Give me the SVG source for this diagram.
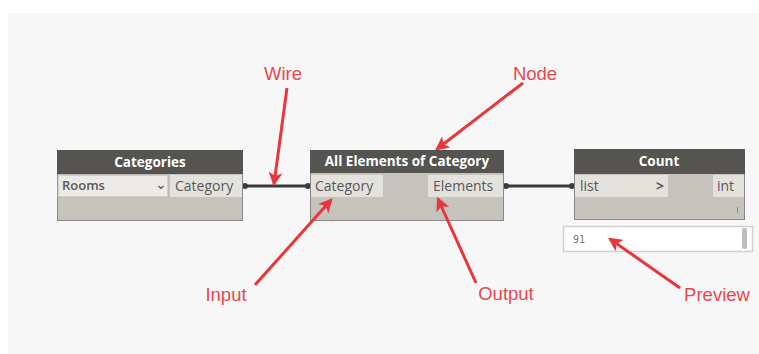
<svg xmlns="http://www.w3.org/2000/svg" width="759" height="354" viewBox="0 0 759 354">
<defs>
<marker id="rh" viewBox="0 0 12 12" refX="10" refY="6" markerWidth="14" markerHeight="14" markerUnits="userSpaceOnUse" orient="auto"><path d="M0,0 L12,6 L0,12 L3,6 z" fill="#e8373c"/></marker>
</defs>
<style>
.body{fill:#c6c3bd;stroke:#8a8884;stroke-width:1}
.head{fill:#565451}
.port{fill:#e4e2dd}
.title{font-family:"Open Sans","Noto Sans",sans-serif;font-size:13.5px;font-weight:bold;fill:#ffffff;text-anchor:middle}
.ptxt{font-family:"Open Sans","Noto Sans",sans-serif;font-size:14px;fill:#5a5855}
.lbl{font-family:"Liberation Sans",Arial,sans-serif;font-size:18.5px;fill:#e8474f;text-anchor:middle}
.arrow{stroke:#e8373c;stroke-width:3;fill:none;marker-end:url(#rh)}
.wire{stroke:#3a3a3a;stroke-width:3}
.dot{fill:#3a3a3a}
</style>
<rect x="0" y="0" width="759" height="354" fill="#ffffff"/>
<rect x="8" y="13" width="751" height="341" fill="#f7f7f7"/>

<g id="connectors">
<line class="wire" x1="243" y1="186" x2="310" y2="186"/>
<circle class="dot" cx="245" cy="186" r="3"/>
<circle class="dot" cx="308" cy="186" r="3"/>
<line class="wire" x1="504" y1="186" x2="574" y2="186"/>
<circle class="dot" cx="506" cy="186" r="3"/>
<circle class="dot" cx="572" cy="186" r="3"/>
</g>

<g id="node-categories">
<rect class="body" x="57.5" y="150.5" width="185" height="70"/>
<rect class="head" x="57" y="150" width="186" height="24"/>
<text class="title" x="150" y="167">Categories</text>
<rect x="58" y="175" width="110" height="22" fill="#eceae6" stroke="#b8b6b2" stroke-width="1"/>
<text class="ptxt" x="62" y="190" fill="#4a4846" style="font-weight:600;font-size:13px">Rooms</text>
<text class="ptxt" x="155" y="189" font-size="9">⌄</text>
<rect class="port" x="170" y="175" width="72" height="22"/>
<text class="ptxt" x="175" y="191">Category</text>
</g>

<g id="node-all-elements">
<rect class="body" x="310.5" y="150.5" width="193" height="70"/>
<rect class="head" x="310" y="150" width="194" height="23"/>
<text class="title" x="407" y="166">All Elements of Category</text>
<rect class="port" x="311" y="175" width="72" height="22"/>
<text class="ptxt" x="315" y="191">Category</text>
<rect class="port" x="428" y="175" width="75" height="22"/>
<text class="ptxt" x="433" y="191">Elements</text>
</g>

<g id="node-count">
<rect class="body" x="574.5" y="149.5" width="170" height="70"/>
<rect class="head" x="574" y="149" width="171" height="25"/>
<text class="title" x="659" y="166">Count</text>
<rect class="port" x="575" y="175" width="93" height="22"/>
<text class="ptxt" x="580" y="191">list</text>
<text class="ptxt" x="656" y="191" font-weight="bold" fill="#3e3c3a">&gt;</text>
<rect class="port" x="713" y="175" width="31" height="22"/>
<text class="ptxt" x="717" y="191">int</text>
<line x1="737.5" y1="207" x2="737.5" y2="213" stroke="#8a8884" stroke-width="1"/>
</g>

<g id="preview">
<rect x="563.5" y="226.5" width="189" height="25" fill="#ffffff" stroke="#cfcfcf" stroke-width="1.5"/>
<text x="573" y="243" font-family="'DejaVu Sans Mono','Liberation Mono',monospace" font-size="10" fill="#777">91</text>
<rect x="742" y="228" width="5" height="21" rx="2" fill="#bdbdbd"/>
</g>

<g id="annotations">
<text class="lbl" x="283" y="80">Wire</text>
<line class="arrow" x1="287" y1="88" x2="274" y2="184"/>
<text class="lbl" x="535" y="80">Node</text>
<line class="arrow" x1="523" y1="83" x2="437" y2="149"/>
<text class="lbl" x="226" y="301">Input</text>
<line class="arrow" x1="255" y1="285" x2="331" y2="200"/>
<text class="lbl" x="506" y="300">Output</text>
<line class="arrow" x1="476" y1="283" x2="438" y2="199"/>
<text class="lbl" x="717" y="301">Preview</text>
<line class="arrow" x1="680" y1="288" x2="610" y2="239"/>
</g>
</svg>
